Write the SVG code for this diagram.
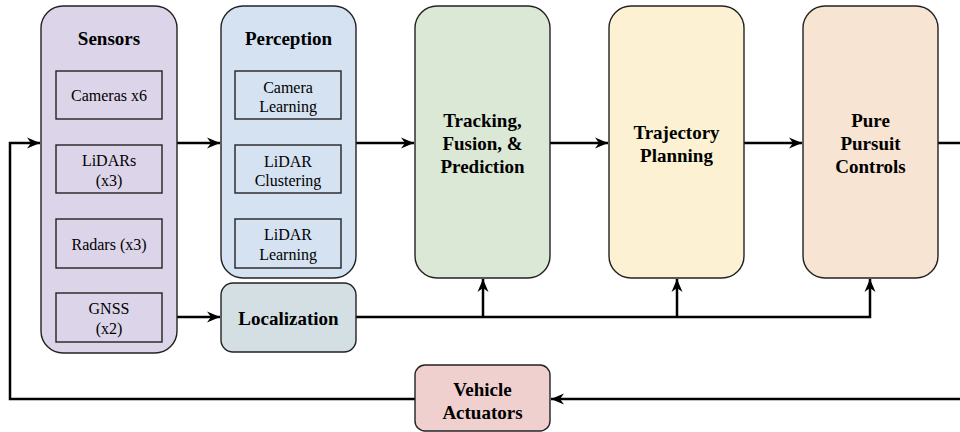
<svg xmlns="http://www.w3.org/2000/svg" width="960" height="432" viewBox="0 0 960 432">
<defs>
<marker id="arr" markerUnits="userSpaceOnUse" markerWidth="14" markerHeight="12" viewBox="0 0 14 12" refX="13" refY="6" orient="auto">
<path d="M0,0.5 L13,6 L0,11.5 L4,6 Z" fill="#000"/>
</marker>
<style>
.box{stroke:#222;stroke-width:1.4}
.inner{fill:none;stroke:#222;stroke-width:1.4}
.h{font-family:"Liberation Serif","Times New Roman",serif;font-weight:bold;font-size:19px;text-anchor:middle;dominant-baseline:central;fill:#000}
.t{font-family:"Liberation Serif","Times New Roman",serif;font-size:16px;text-anchor:middle;dominant-baseline:central;fill:#000}
.c{fill:none;stroke:#000;stroke-width:2.5}
</style>
</defs>
<rect width="960" height="432" fill="#fff"/>
<g id="connectors">
<path class="c" d="M177,143 H220" marker-end="url(#arr)"/>
<path class="c" d="M356,143 H414" marker-end="url(#arr)"/>
<path class="c" d="M550,143 H608" marker-end="url(#arr)"/>
<path class="c" d="M744,143 H802" marker-end="url(#arr)"/>
<path class="c" d="M938,143 H968 V399 H551" marker-end="url(#arr)"/>
<path class="c" d="M415,399 H10 V143 H40" marker-end="url(#arr)"/>
<path class="c" d="M177,317 H220" marker-end="url(#arr)"/>
<path class="c" d="M356,317 H870 V279" marker-end="url(#arr)"/>
<path class="c" d="M483,317 V279" marker-end="url(#arr)"/>
<path class="c" d="M677,317 V279" marker-end="url(#arr)"/>
</g>
<g id="sensors">
<rect class="box" x="41" y="6" width="136" height="347" rx="22" fill="#dcd4e8"/>
<text class="h" x="109" y="38">Sensors</text>
<rect class="inner" x="56" y="71" width="106" height="48"/>
<text class="t" x="109" y="95">Cameras x6</text>
<rect class="inner" x="56" y="145" width="106" height="48"/>
<text class="t" x="109" y="160">LiDARs</text>
<text class="t" x="109" y="180">(x3)</text>
<rect class="inner" x="56" y="219" width="106" height="49"/>
<text class="t" x="109" y="244">Radars (x3)</text>
<rect class="inner" x="56" y="293" width="106" height="49"/>
<text class="t" x="109" y="308">GNSS</text>
<text class="t" x="109" y="328">(x2)</text>
</g>
<g id="perception">
<rect class="box" x="221" y="6" width="135" height="272" rx="22" fill="#d5e2f2"/>
<text class="h" x="288.5" y="38">Perception</text>
<rect class="inner" x="235" y="71" width="106" height="48"/>
<text class="t" x="288" y="87">Camera</text>
<text class="t" x="288" y="106">Learning</text>
<rect class="inner" x="235" y="145" width="106" height="48"/>
<text class="t" x="288" y="161">LiDAR</text>
<text class="t" x="288" y="180">Clustering</text>
<rect class="inner" x="235" y="219" width="106" height="49"/>
<text class="t" x="288" y="234">LiDAR</text>
<text class="t" x="288" y="254">Learning</text>
</g>
<g id="localization">
<rect class="box" x="221" y="283" width="135" height="69" rx="12" fill="#d3dfe3"/>
<text class="h" x="288.5" y="318">Localization</text>
</g>
<g id="tracking">
<rect class="box" x="415" y="6" width="135" height="272" rx="22" fill="#dce8d6"/>
<text class="h" x="482.5" y="120">Tracking,</text>
<text class="h" x="482.5" y="143">Fusion, &amp;</text>
<text class="h" x="482.5" y="166">Prediction</text>
</g>
<g id="trajectory">
<rect class="box" x="609" y="6" width="135" height="272" rx="22" fill="#fcf2d3"/>
<text class="h" x="676.5" y="132">Trajectory</text>
<text class="h" x="676.5" y="155">Planning</text>
</g>
<g id="purepursuit">
<rect class="box" x="803" y="6" width="135" height="272" rx="22" fill="#f7e4d3"/>
<text class="h" x="870.5" y="120">Pure</text>
<text class="h" x="870.5" y="143">Pursuit</text>
<text class="h" x="870.5" y="166">Controls</text>
</g>
<g id="actuators">
<rect class="box" x="415" y="365" width="135" height="66" rx="10" fill="#f0d0cf"/>
<text class="h" x="482.5" y="389">Vehicle</text>
<text class="h" x="482.5" y="412">Actuators</text>
</g>
</svg>
